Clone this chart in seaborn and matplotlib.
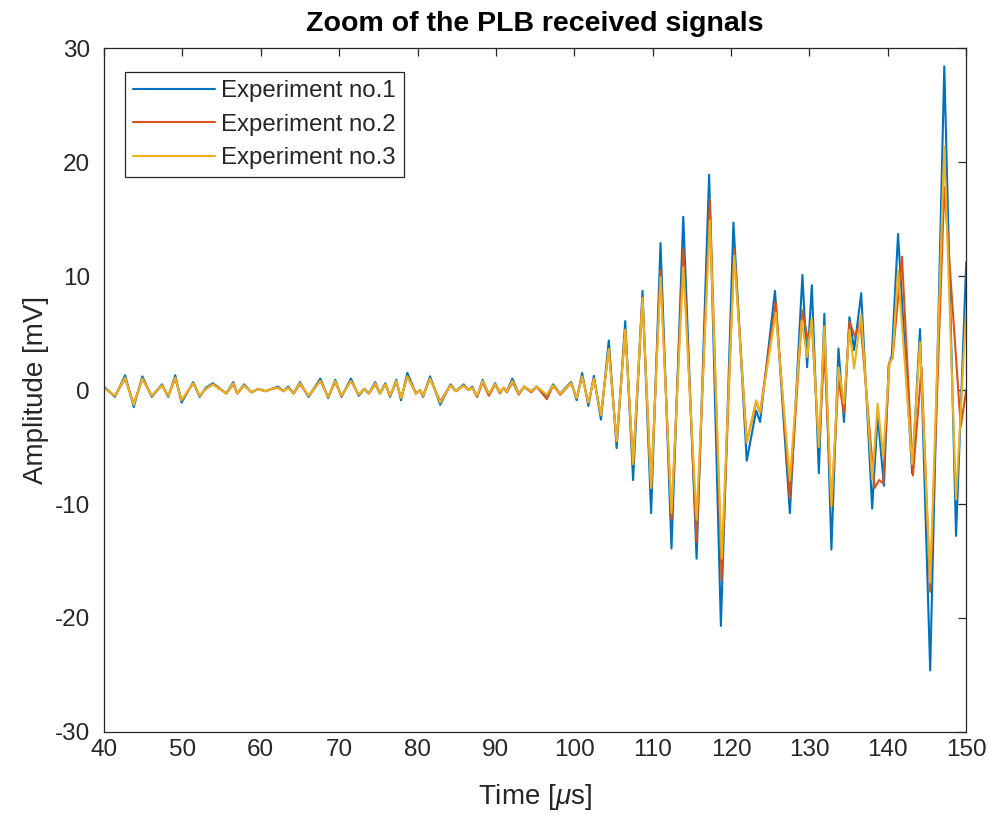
import matplotlib
matplotlib.use("Agg")
import matplotlib.pyplot as plt
import seaborn as sns
import pandas as pd

# ---- data (extrema of each received signal) ----
t_early = [40.0, 41.4, 42.7, 43.8, 44.9, 46.1, 47.4, 48.2, 49.1, 49.9, 51.4, 52.2, 53.0, 53.9,
           55.6, 56.5, 57.0, 57.9, 58.8, 59.7, 60.6, 61.4, 62.2, 62.9, 63.5, 64.2, 65.0, 66.1,
           67.6, 68.6, 69.5, 70.3, 71.5, 72.5, 73.2, 73.8, 74.6, 75.2, 75.9, 76.5, 77.3, 77.9,
           78.7, 79.8, 80.3, 80.7, 81.6, 82.9, 84.2, 84.9, 85.9, 86.5, 87.0, 87.6, 88.3, 89.1,
           89.9, 90.5, 91.0, 91.4, 92.1, 92.9, 93.6, 94.5, 95.2, 96.5, 97.3, 98.2, 99.6, 100.3,
           101.0, 101.8, 102.5]
exp1_early = [0.3, -0.6, 1.3, -1.5, 1.2, -0.6, 0.5, -0.6, 1.3, -1.1, 0.7, -0.6, 0.2, 0.6,
              -0.3, 0.7, -0.3, 0.5, -0.2, 0.1, -0.1, 0.1, 0.3, -0.1, 0.3, -0.3, 0.7, -0.6,
              1.0, -0.7, 0.9, -0.6, 1.0, -0.5, 0.1, -0.3, 0.7, -0.3, 0.6, -0.6, 0.9, -0.9,
              1.5, -0.3, 0.0, -0.6, 1.2, -1.3, 0.5, -0.1, 0.5, 0.0, 0.3, -0.6, 0.9, -0.4,
              0.6, -0.2, 0.2, -0.1, 1.0, -0.3, 0.3, -0.1, 0.3, -0.5, 0.5, -0.3, 0.7, -0.9,
              1.5, -1.4, 1.25]
exp2_early = [0.2, -0.5, 1.0, -1.2, 1.0, -0.5, 0.4, -0.5, 1.0, -0.9, 0.6, -0.5, 0.1, 0.5,
              -0.3, 0.5, -0.3, 0.4, -0.2, 0.1, -0.1, 0.1, 0.2, -0.1, 0.2, -0.3, 0.5, -0.5,
              0.8, -0.6, 0.7, -0.5, 0.8, -0.4, 0.1, -0.3, 0.5, -0.3, 0.5, -0.5, 0.7, -0.7,
              1.2, -0.3, 0.0, -0.5, 1.0, -1.0, 0.4, -0.1, 0.4, 0.0, 0.2, -0.6, 0.7, -0.5,
              0.5, -0.3, 0.2, -0.2, 0.7, -0.4, 0.3, -0.2, 0.3, -0.8, 0.4, -0.4, 0.6, -0.7,
              1.2, -1.1, 1.0]
exp3_early = [0.2, -0.5, 1.1, -1.3, 1.0, -0.5, 0.4, -0.5, 1.1, -0.9, 0.6, -0.5, 0.1, 0.5,
              -0.3, 0.6, -0.3, 0.4, -0.2, 0.1, -0.1, 0.1, 0.2, -0.1, 0.2, -0.3, 0.6, -0.5,
              0.8, -0.6, 0.8, -0.5, 0.8, -0.4, 0.1, -0.3, 0.6, -0.3, 0.5, -0.5, 0.8, -0.7,
              1.2, -0.3, 0.0, -0.5, 1.0, -1.1, 0.4, -0.1, 0.4, 0.0, 0.2, -0.5, 0.8, -0.3,
              0.5, -0.2, 0.2, -0.1, 0.8, -0.3, 0.3, -0.1, 0.3, -0.4, 0.4, -0.3, 0.6, -0.7,
              1.2, -1.1, 1.0]

t1_late = [103.4, 104.4, 105.4, 106.5, 107.5, 108.7, 109.8, 111.0, 112.4, 113.9, 115.6, 117.2,
           118.7, 120.3, 122.0, 123.2, 123.7, 125.6, 127.5, 129.1, 129.7, 130.3, 131.2, 131.9,
           132.8, 133.7, 134.4, 135.1, 135.7, 136.6, 138.0, 138.7, 139.5, 140.1, 140.5, 141.3,
           143.1, 144.1, 145.4, 147.2, 148.7, 150.0]
exp1_late = [-2.6, 4.35, -5.1, 6.05, -7.9, 8.7, -10.8, 12.9, -13.9, 15.2, -14.8, 18.9,
             -20.7, 14.7, -6.2, -1.8, -2.8, 8.7, -10.8, 10.1, 2.0, 9.2, -7.3, 6.7,
             -14.0, 3.65, -2.8, 6.4, 3.5, 8.5, -10.4, -2.2, -8.4, 2.2, 3.0, 13.7,
             -7.3, 5.35, -24.6, 28.4, -12.8, 11.2]

t2_late = [103.4, 104.4, 105.4, 106.5, 107.5, 108.7, 109.8, 111.0, 112.4, 113.9, 115.6, 117.3,
           118.8, 120.4, 122.0, 123.2, 123.7, 125.7, 127.5, 129.1, 129.8, 130.3, 131.2, 131.9,
           132.8, 133.7, 134.4, 135.1, 135.8, 136.5, 138.3, 138.9, 139.4, 140.2, 140.6, 141.8,
           143.2, 144.3, 145.4, 147.2, 149.3, 150.0]
exp2_late = [-2.2, 3.6, -4.5, 5.3, -6.5, 8.1, -8.6, 10.5, -11.4, 12.4, -13.3, 16.7,
             -16.7, 12.4, -4.6, -1.0, -2.0, 7.75, -9.5, 7.0, 4.4, 5.8, -5.0, 3.5,
             -10.2, 0.9, -2.0, 6.0, 4.7, 6.0, -8.6, -7.9, -8.2, 2.4, 2.8, 11.7,
             -7.5, 2.0, -17.7, 17.8, -3.2, 0.0]

t3_late = [103.4, 104.4, 105.4, 106.5, 107.5, 108.7, 109.8, 111.0, 112.4, 113.9, 115.6, 117.3,
           118.8, 120.4, 122.0, 123.2, 123.7, 125.7, 127.5, 129.0, 129.7, 130.3, 131.2, 131.9,
           132.8, 133.7, 134.4, 135.1, 135.7, 136.6, 138.0, 138.7, 139.4, 140.2, 140.6, 141.3,
           143.1, 144.1, 145.4, 147.2, 148.7, 150.0]
exp3_late = [-2.2, 3.6, -4.5, 5.3, -6.5, 8.1, -8.6, 9.9, -10.8, 10.8, -11.4, 14.9,
             -14.8, 11.8, -4.6, -0.9, -2.0, 6.8, -7.9, 6.1, 2.9, 6.3, -5.0, 5.6,
             -10.2, 2.0, -1.2, 5.3, 1.9, 6.6, -7.8, -1.2, -5.8, 2.4, 2.8, 10.5,
             -6.5, 4.2, -16.9, 21.4, -9.6, 7.2]

series_names = ["Experiment no.1", "Experiment no.2", "Experiment no.3"]
series_colors = ["#0072BD", "#D95319", "#EDB120"]

# ---- build long-form table ----
frames = []
for name, te, ve, tl, vl in [
    (series_names[0], t_early, exp1_early, t1_late, exp1_late),
    (series_names[1], t_early, exp2_early, t2_late, exp2_late),
    (series_names[2], t_early, exp3_early, t3_late, exp3_late),
]:
    assert len(te) == len(ve) and len(tl) == len(vl), name
    frames.append(pd.DataFrame({"Time": list(te) + list(tl),
                                "Amplitude": list(ve) + list(vl),
                                "Series": name}))
df = pd.concat(frames, ignore_index=True)

# ---- style ----
sns.set_style("white")
plt.rcParams["font.family"] = ["Liberation Sans", "DejaVu Sans"]
plt.rcParams["mathtext.fontset"] = "custom"
plt.rcParams["mathtext.it"] = "Liberation Sans:italic"
plt.rcParams["mathtext.rm"] = "Liberation Sans"
plt.rcParams["axes.unicode_minus"] = False
dark = "#262626"

fig = plt.figure(figsize=(9.9, 8.16), dpi=100)
ax = fig.add_axes([0.105, 0.103, 0.871, 0.838])

sns.lineplot(data=df, x="Time", y="Amplitude", hue="Series",
             hue_order=series_names, palette=series_colors,
             estimator=None, sort=False, linewidth=1.5, ax=ax)
for ln in ax.get_lines():
    ln.set_solid_joinstyle("round")

ax.set_xlim(40, 150)
ax.set_ylim(-30, 30)
ax.set_xticks(range(40, 151, 10))
ax.set_yticks(range(-30, 31, 10))
ax.tick_params(direction="in", length=6, width=0.9, top=True, right=True,
               labelsize=17.5, colors=dark)
ax.tick_params(axis="x", pad=5)
ax.tick_params(axis="y", pad=10)
for s in ax.spines.values():
    s.set_color(dark)
    s.set_linewidth(0.9)

ax.set_xlabel(r"Time [$\mu$s]", fontsize=20, color=dark, labelpad=15)
ax.set_ylabel("Amplitude [mV]", fontsize=20, color=dark, labelpad=4)
ax.set_title("Zoom of the PLB received signals", fontsize=20.5, fontweight="bold",
             color="black", pad=12)

leg = ax.legend(loc="upper left", bbox_to_anchor=(0.024, 0.965), fontsize=17.3,
                frameon=True, fancybox=False, framealpha=1, edgecolor=dark,
                handlelength=3.4, handletextpad=0.25, borderpad=0.35,
                labelspacing=0.47, borderaxespad=0)
leg.get_frame().set_linewidth(0.9)
for h in leg.get_lines():
    h.set_linewidth(1.5)

fig.savefig("out.png", dpi=100)
